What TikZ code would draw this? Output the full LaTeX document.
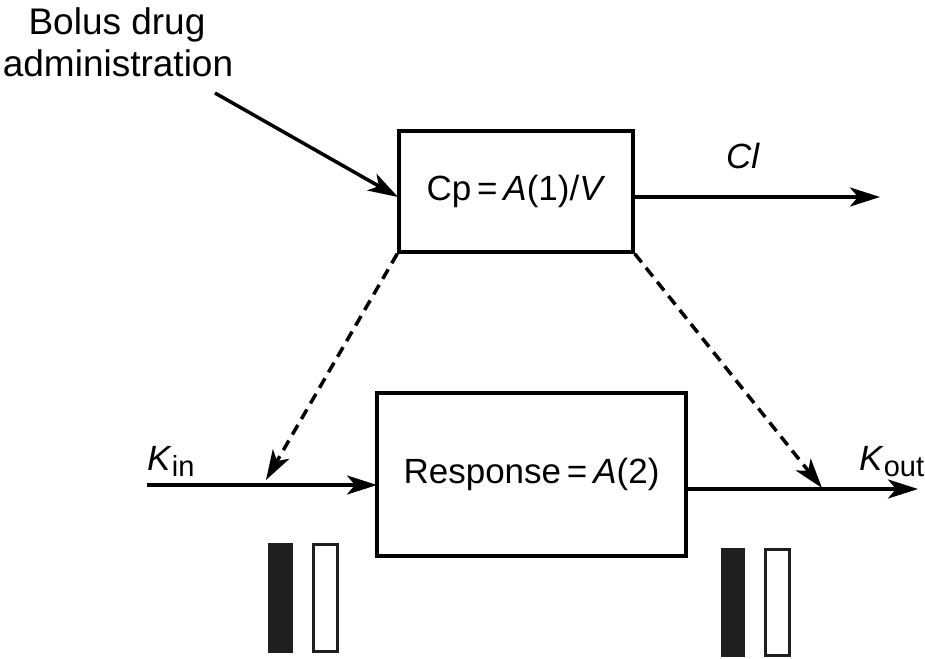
\documentclass[tikz,border=0pt]{standalone}
\usepackage{fontspec}
\setmainfont{Liberation Sans}
\usetikzlibrary{arrows.meta}
\tikzset{
  lbl/.style={font=\fontsize{35}{40}\selectfont, inner sep=0pt},
  boxn/.style={draw, line width=3.5pt, inner sep=0pt, font=\fontsize{35}{40}\selectfont},
  arr/.style={line width=3.5pt, -{Stealth[length=30pt,width=19pt,inset=8pt]}},
  darr/.style={arr, dash pattern=on 11pt off 7pt},
  barblack/.style={fill=black!88, draw=black!88, line width=1pt},
  barwhite/.style={draw=black!88, line width=3pt, fill=white},
}
\newcommand{\sub}[1]{\raisebox{-0.35ex}{\fontsize{29}{33}\selectfont #1}}
\begin{document}
\begin{tikzpicture}[x=1pt,y=-1pt]
\useasboundingbox (0,0) rectangle (925,658);
% text top-left
\node[lbl, anchor=base, font=\fontsize{37}{42}\selectfont] (b1) at (117,35) {Bolus drug};
\node[lbl, anchor=base, font=\fontsize{37}{42}\selectfont] (b2) at (118,77) {administration};
% boxes
\node[boxn, minimum width=234pt, minimum height=121pt] (cp) at (516,191.5) {Cp\,=\,\textit{A}(1)/\textit{V}};
\node[boxn, minimum width=309pt, minimum height=163pt] (resp) at (531.5,474.5) {Response\,=\,\textit{A}(2)};
% coordinates
\coordinate (bs) at (215,93);
\coordinate (be) at (398,197);
\coordinate (cle) at (880,197);
\coordinate (kins) at (147,485);
\coordinate (kine) at (377,485);
\coordinate (kouts) at (686,489);
\coordinate (koute) at (918,489);
\coordinate (dl) at (266,480);
\coordinate (dr) at (822,488);
% arrows
\draw[arr] (bs) -- (be);
\draw[arr] (cp.east |- cle) -- (cle);
\draw[arr] (kins) -- (kine);
\draw[arr] (kouts) -- (koute);
\draw[darr] (cp.south west) -- (dl);
\draw[darr] (cp.south east) -- (dr);
% labels
\node[lbl, anchor=base] (cl) at (743,168) {\textit{Cl}};
\node[lbl, anchor=base west] (kin) at (147,470) {\textit{K}\sub{in}};
\node[lbl, anchor=base west] (kout) at (859,470) {\textit{K}\sub{out}};
% bars
\draw[barblack] (268,543) rectangle (292,652);
\draw[barwhite] (313,544) rectangle (337,651);
\draw[barblack] (721,548) rectangle (744,656);
\draw[barwhite] (765,549) rectangle (789,655);
\end{tikzpicture}
\end{document}
